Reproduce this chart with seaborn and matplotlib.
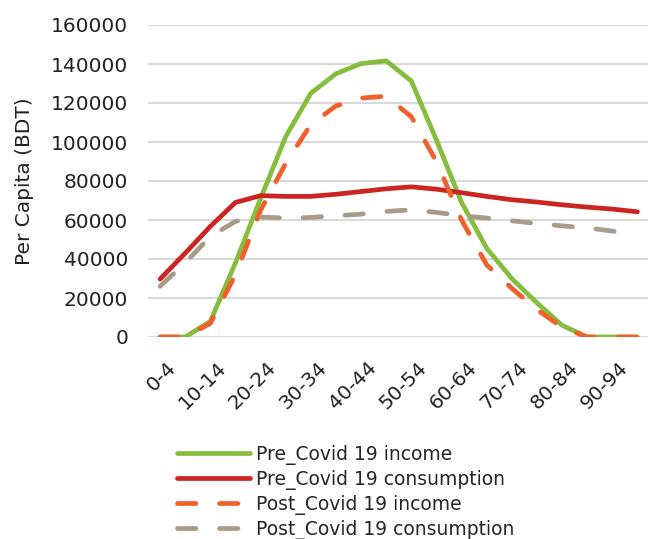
import matplotlib
matplotlib.use("Agg")
import matplotlib.pyplot as plt
import matplotlib.transforms as mtransforms
import seaborn as sns
import pandas as pd

# Age groups (five-year bands)
age_groups = ["0-4", "5-9", "10-14", "15-19", "20-24", "25-29", "30-34", "35-39",
              "40-44", "45-49", "50-54", "55-59", "60-64", "65-69", "70-74",
              "75-79", "80-84", "85-89", "90-94", "95-99"]

pre_income = [0, 0, 8000, 38000, 71000, 102700, 125000, 135000, 140200, 141600,
              131300, 101000, 69000, 45500, 30000, 17500, 6000, 0, 0, 0]
pre_consumption = [29700, 43000, 56700, 69000, 72500, 72100, 72100, 73200, 74600,
                   76000, 77000, 75800, 74000, 72100, 70400, 69200, 67800, 66600,
                   65600, 64200]
post_income = [0, 0, 7000, 32000, 65000, 89000, 109000, 118500, 122500, 123500,
               113000, 90000, 60000, 37000, 25000, 14000, 5000, 0, 0, 0]
post_consumption = [26000, 38000, 51500, 59300, 61500, 61000, 61300, 62200, 63000,
                    64400, 65200, 63900, 62200, 61000, 59600, 58200, 57000, 56000,
                    54300, 52800]

series_names = ["Pre_Covid 19 income", "Pre_Covid 19 consumption",
                "Post_Covid 19 income", "Post_Covid 19 consumption"]
series_values = [pre_income, pre_consumption, post_income, post_consumption]

rows = []
for name, vals in zip(series_names, series_values):
    for i, v in enumerate(vals):
        rows.append({"pos": i, "age": age_groups[i], "value": v, "series": name})
df = pd.DataFrame(rows)

palette = {
    "Pre_Covid 19 income": "#86BD3D",
    "Pre_Covid 19 consumption": "#CC2420",
    "Post_Covid 19 income": "#F15F2A",
    "Post_Covid 19 consumption": "#A89B8A",
}
dashes = {
    "Pre_Covid 19 income": "",
    "Pre_Covid 19 consumption": "",
    "Post_Covid 19 income": (3.9, 5.0),
    "Post_Covid 19 consumption": (3.9, 5.0),
}

sns.set_theme(style="white")
plt.rcParams["font.family"] = ["DejaVu Sans"]

fig = plt.figure(figsize=(6.48, 5.39), dpi=100)
ax = fig.add_axes([147.5 / 648, 1 - 337 / 539, (650 - 147.5) / 648, (337 - 25) / 539])

sns.lineplot(data=df, x="pos", y="value", hue="series", style="series",
             hue_order=series_names, style_order=series_names,
             palette=palette, dashes=dashes, linewidth=3.4, sort=False,
             ax=ax, legend=True)

for line in ax.get_lines():
    line.set_solid_capstyle("round")
    line.set_dash_capstyle("round")
    line.set_solid_joinstyle("round")
    line.set_dash_joinstyle("round")

ax.set_xlim(-0.5, len(age_groups) - 0.5)
ax.set_ylim(0, 160000)
ax.set_yticks(range(0, 160001, 20000))
ax.set_yticklabels([str(v) for v in range(0, 160001, 20000)], fontsize=14.5, color="#222222")
ax.set_xticks(range(0, len(age_groups), 2))
ax.set_xticklabels(age_groups[::2], rotation=45, ha="right", va="top",
                   rotation_mode="anchor", fontsize=14.5, color="#222222")
ax.tick_params(axis="y", length=0, pad=14)
ax.tick_params(axis="x", length=0, pad=15)
shift = mtransforms.ScaledTranslation(6 / 100, 0, fig.dpi_scale_trans)
for lbl in ax.get_xticklabels():
    lbl.set_transform(lbl.get_transform() + shift)
ax.yaxis.grid(True, color="#D9D9D9", linewidth=1.5)
ax.set_axisbelow(True)
for s in ax.spines.values():
    s.set_visible(False)
ax.set_xlabel("")
ax.set_ylabel("Per Capita (BDT)", fontsize=14.5, color="#222222", labelpad=12)

handles, labels = ax.get_legend_handles_labels()
ax.legend_.remove()
for h in handles:
    h.set_solid_capstyle("round")
    h.set_dash_capstyle("round")
fig.legend(handles, labels, loc="upper left", bbox_to_anchor=(177 / 648, 1 - 445 / 539),
           frameon=False, fontsize=13.5, handlelength=3.9, handletextpad=0.3,
           labelspacing=0.26, borderaxespad=0, borderpad=0)

fig.savefig("out.png", dpi=100)
